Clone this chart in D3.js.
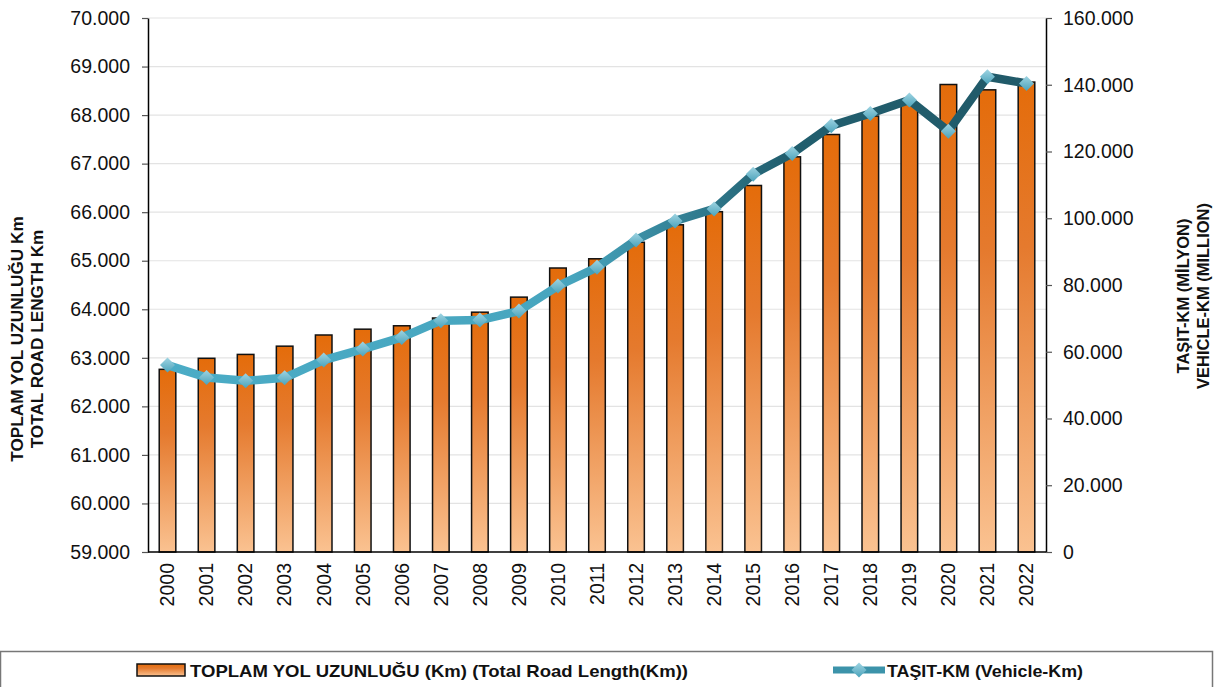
<!DOCTYPE html>
<html><head><meta charset="utf-8">
<script src="https://cdn.jsdelivr.net/npm/d3@7"></script>
<style>body{margin:0;background:#fff;}svg{display:block;font-family:"Liberation Sans",Arial,sans-serif;}</style>
</head><body><svg id="c" width="1227" height="687"></svg>
<script>
const years = ["2000","2001","2002","2003","2004","2005","2006","2007","2008","2009","2010","2011","2012","2013","2014","2015","2016","2017","2018","2019","2020","2021","2022"];
const roadLength = [62763,62990,63070,63240,63470,63590,63660,63820,63940,64250,64850,65040,65380,65740,66010,66550,67140,67600,67980,68240,68630,68520,68680];
const vehicleKm = [56000,52300,51300,52200,57500,60800,64300,69300,69500,72200,79700,85300,93500,99200,102800,113200,119400,127700,131400,135400,126100,142400,140400];
const leftTicks = [59000,60000,61000,62000,63000,64000,65000,66000,67000,68000,69000,70000];
const rightTicks = [0,20000,40000,60000,80000,100000,120000,140000,160000];
const leftTitle = ["TOPLAM YOL UZUNLUĞU Km","TOTAL ROAD LENGTH Km"];
const rightTitle = ["TAŞIT-KM (MİLYON)","VEHICLE-KM (MILLION)"];
const legendLabels = ["TOPLAM YOL UZUNLUĞU (Km) (Total Road Length(Km))","TAŞIT-KM (Vehicle-Km)"];

const L=148,R=1046,T=18,B=552;
const svg=d3.select("#c");
const loc=d3.formatLocale({decimal:",",thousands:".",grouping:[3],currency:["",""]});
const fmt=loc.format(",d");

const defs=svg.append("defs");
const bg=defs.append("linearGradient").attr("id","barG").attr("x1",0).attr("y1",0).attr("x2",0).attr("y2",1);
bg.append("stop").attr("offset",0).attr("stop-color","#E46C0A");
bg.append("stop").attr("offset",0.35).attr("stop-color","#E57A2E");
bg.append("stop").attr("offset",1).attr("stop-color","#FAC291");
const mg=defs.append("linearGradient").attr("id","mkG").attr("x1",0).attr("y1",0).attr("x2",0).attr("y2",1);
mg.append("stop").attr("offset",0).attr("stop-color","#9FD4E2");
mg.append("stop").attr("offset",1).attr("stop-color","#4BA3BB");

const x=d3.scaleBand().domain(years).range([L,R]).paddingInner(0.575).paddingOuter(0.2875);
const yL=d3.scaleLinear().domain([59000,70000]).range([B,T]);
const yR=d3.scaleLinear().domain([0,160000]).range([B,T]);

const lg=defs.append("linearGradient").attr("id","lineG").attr("gradientUnits","userSpaceOnUse")
  .attr("x1",x("2000")+x.bandwidth()/2).attr("x2",x("2022")+x.bandwidth()/2).attr("y1",0).attr("y2",0);
lg.append("stop").attr("offset",0).attr("stop-color","#4BACC6");
lg.append("stop").attr("offset",0.47).attr("stop-color","#47A5BE");
lg.append("stop").attr("offset",0.72).attr("stop-color","#215E6E");
lg.append("stop").attr("offset",1).attr("stop-color","#215A69");

// grid
svg.append("g").selectAll("line").data(leftTicks.slice(1)).join("line")
  .attr("x1",L).attr("x2",R).attr("y1",d=>yL(d)).attr("y2",d=>yL(d))
  .attr("stroke","#e3e3e3").attr("stroke-width",1.2);

// bars
svg.append("g").selectAll("rect").data(years).join("rect")
  .attr("x",d=>x(d)).attr("width",x.bandwidth())
  .attr("y",(d,i)=>yL(roadLength[i])).attr("height",(d,i)=>B-yL(roadLength[i]))
  .attr("fill","url(#barG)").attr("stroke","#111").attr("stroke-width",1.5);

// axes
const ax=svg.append("g").attr("transform",`translate(${L},0)`)
  .call(d3.axisLeft(yL).tickValues(leftTicks).tickFormat(fmt).tickSize(6).tickPadding(12).tickSizeOuter(0));
const ar=svg.append("g").attr("transform",`translate(${R},0)`)
  .call(d3.axisRight(yR).tickValues(rightTicks).tickFormat(fmt).tickSize(6).tickPadding(11).tickSizeOuter(0));
[ax,ar].forEach(g=>{
  g.select(".domain").attr("stroke","#000").attr("stroke-width",1.5);
  g.selectAll(".tick line").attr("stroke","#555").attr("stroke-width",1.2);
  g.selectAll(".tick text").attr("font-size",19.5).attr("fill","#111").attr("font-family","Liberation Sans, Arial, sans-serif");
});
svg.append("line").attr("x1",L).attr("x2",R).attr("y1",B).attr("y2",B).attr("stroke","#000").attr("stroke-width",1.5);

// year labels
svg.append("g").selectAll("text").data(years).join("text")
  .attr("transform",d=>`translate(${x(d)+x.bandwidth()/2},563) rotate(-90)`)
  .attr("text-anchor","end").attr("dy","0.35em").attr("font-size",19.5).attr("fill","#111").text(d=>d);

// line
const pts=years.map((d,i)=>[x(d)+x.bandwidth()/2,yR(vehicleKm[i])]);
svg.append("path").attr("d",d3.line()(pts)).attr("fill","none")
  .attr("stroke","url(#lineG)").attr("stroke-width",8.5).attr("stroke-linejoin","round");
svg.append("g").selectAll("path").data(pts).join("path")
  .attr("d",d=>`M${d[0]},${d[1]-7.5}L${d[0]+7.5},${d[1]}L${d[0]},${d[1]+7.5}L${d[0]-7.5},${d[1]}Z`)
  .attr("fill","url(#mkG)");

// axis titles
const lt=svg.append("text").attr("transform","translate(17,339) rotate(-90)").attr("text-anchor","middle")
  .attr("font-weight","bold").attr("font-size",17.2).attr("fill","#111");
leftTitle.forEach((t,i)=>lt.append("tspan").attr("x",0).attr("y",i*20).attr("dy","0.35em").text(t));
const rt=svg.append("text").attr("transform","translate(1183,296) rotate(-90)").attr("text-anchor","middle")
  .attr("font-weight","bold").attr("font-size",16.5).attr("fill","#111");
rightTitle.forEach((t,i)=>rt.append("tspan").attr("x",0).attr("y",i*20).attr("dy","0.35em").text(t));

// legend
svg.append("rect").attr("x",0.5).attr("y",651.5).attr("width",1212).attr("height",60)
  .attr("fill","none").attr("stroke","#777").attr("stroke-width",1.5);
svg.append("rect").attr("x",137).attr("y",664).attr("width",48).attr("height",12)
  .attr("fill","url(#barG)").attr("stroke","#111").attr("stroke-width",1.5);
svg.append("text").attr("x",190).attr("y",677).attr("font-weight","bold").attr("font-size",17)
  .attr("textLength",498).attr("lengthAdjust","spacingAndGlyphs").attr("fill","#111").text(legendLabels[0]);
svg.append("line").attr("x1",833).attr("x2",885).attr("y1",670).attr("y2",670).attr("stroke","#3C93AA").attr("stroke-width",7);
svg.append("path").attr("d","M859,662.5L866.5,670L859,677.5L851.5,670Z").attr("fill","url(#mkG)");
svg.append("text").attr("x",887).attr("y",677).attr("font-weight","bold").attr("font-size",17)
  .attr("textLength",196).attr("lengthAdjust","spacingAndGlyphs").attr("fill","#111").text(legendLabels[1]);
</script></body></html>
